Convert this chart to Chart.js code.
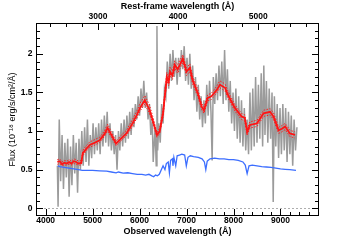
<!DOCTYPE html>
<html>
<head>
<meta charset="utf-8">
<script src="https://cdn.jsdelivr.net/npm/chart.js@4.4.0/dist/chart.umd.min.js"></script>
<style>
  html, body { margin: 0; padding: 0; background: #fff; }
  #wrap { width: 355px; height: 240px; }
</style>
</head>
<body>
<div id="wrap"><canvas id="spec" width="355" height="240"></canvas></div>
<script>
// observed wavelength range and redshift for the rest-frame axis
var xMin = 3795, xMax = 9820
var zFactor = 1.705

var xTicks = [4000, 5000, 6000, 7000, 8000, 9000]
var topTicks = [3000, 4000, 5000]
var yTicks = [0, 0.5, 1, 1.5, 2]

// observed spectrum (grey), pairs of [wavelength, flux]
var graySpectrum = [[4250,0.55],[4265,0.02],[4290,1.15],[4320,0.35],[4350,0.95],[4380,0.25],[4410,0.85],[4440,0.40],[4470,0.90],[4500,0.15],
  [4530,0.80],[4560,0.30],[4590,0.95],[4620,0.45],[4650,0.85],[4680,0.20],[4710,0.90],[4740,0.50],[4770,1.00],[4800,0.55],
  [4830,1.05],[4860,0.60],[4890,1.15],[4920,0.55],[4950,0.95],[4980,0.65],[5010,1.10],[5040,0.70],[5070,1.05],[5100,0.75],
  [5130,1.10],[5160,0.70],[5190,1.15],[5220,0.80],[5250,1.20],[5280,0.85],[5310,1.25],[5340,0.80],[5370,1.10],[5400,0.75],
  [5430,1.00],[5460,0.70],[5490,0.95],[5520,0.50],[5550,1.00],[5580,0.75],[5610,1.10],[5640,0.80],[5670,1.15],[5700,0.85],
  [5730,1.20],[5760,0.90],[5790,1.25],[5820,0.95],[5850,1.30],[5880,1.05],[5910,1.35],[5940,1.15],[5970,1.45],[6000,1.20],
  [6030,1.55],[6060,1.30],[6090,1.65],[6120,1.30],[6150,1.50],[6180,1.15],[6210,1.35],[6240,0.95],[6270,1.15],[6290,0.60],
  [6330,1.05],[6355,0.55],[6370,2.36],[6385,0.75],[6410,1.10],[6440,0.85],[6470,1.35],[6500,1.10],[6530,1.55],[6560,1.45],
  [6590,1.90],[6620,1.55],[6650,2.00],[6680,1.65],[6710,2.05],[6740,1.70],[6770,1.95],[6800,1.60],[6830,1.95],[6860,1.70],
  [6890,2.05],[6920,1.80],[6950,2.10],[6980,1.65],[7010,1.95],[7040,1.60],[7070,2.00],[7100,1.55],[7130,1.85],[7160,1.40],
  [7190,1.70],[7220,1.25],[7250,1.60],[7280,1.15],[7310,1.45],[7340,1.05],[7370,1.40],[7400,1.10],[7430,1.60],[7460,1.20],
  [7490,1.65],[7520,1.25],[7545,0.62],[7570,1.70],[7600,1.35],[7630,1.75],[7660,1.40],[7690,1.85],[7720,1.45],[7750,1.90],
  [7780,1.35],[7810,2.05],[7840,1.40],[7870,1.80],[7900,1.25],[7930,1.65],[7960,1.10],[7990,1.50],[8020,1.00],[8050,1.55],
  [8080,0.90],[8110,1.45],[8140,0.85],[8170,1.40],[8200,0.80],[8230,1.30],[8260,0.75],[8290,1.15],[8320,0.70],[8350,1.50],
  [8380,0.75],[8410,1.55],[8440,0.80],[8470,1.70],[8500,0.85],[8530,1.60],[8560,0.90],[8590,1.75],[8620,0.80],[8645,1.85],
  [8670,0.95],[8700,1.65],[8730,0.85],[8760,1.55],[8790,0.90],[8820,1.50],[8845,0.08],[8870,1.45],[8900,0.80],[8930,1.35],
  [8960,0.65],[8990,1.30],[9020,0.70],[9050,1.35],[9080,0.75],[9110,1.30],[9140,0.60],[9170,1.25],[9200,0.70],[9230,1.20],
  [9260,0.55],[9290,1.15],[9320,0.75],[9350,1.05]]

// best fit model (red) with its upper / lower envelope (dotted)
var redWave = [4250, 4300, 4350, 4400, 4450, 4500, 4550, 4600, 4650, 4700, 4760, 4790, 4850, 4940, 5050, 5150, 5250, 5320, 5400, 5500,
  5600, 5720, 5850, 5950, 6010, 6110, 6210, 6280, 6370, 6430, 6500, 6580, 6620, 6650, 6700, 6750, 6810, 6860, 6920, 7000,
  7070, 7130, 7240, 7320, 7370, 7450, 7530, 7640, 7710, 7820, 7880, 8030, 8170, 8240, 8290, 8350, 8500, 8640, 8780, 8850,
  8960, 9030, 9100, 9200, 9310]
var redFlux = [0.60, 0.61, 0.57, 0.59, 0.58, 0.60, 0.58, 0.61, 0.60, 0.58, 0.59, 0.71, 0.76, 0.82, 0.85, 0.88, 0.96, 1.04, 0.95, 0.84,
  0.90, 0.97, 1.10, 1.22, 1.30, 1.40, 1.28, 1.14, 0.95, 1.00, 1.23, 1.70, 1.64, 1.77, 1.72, 1.86, 1.80, 1.86, 1.94, 1.77,
  1.82, 1.66, 1.49, 1.32, 1.27, 1.43, 1.45, 1.53, 1.60, 1.56, 1.47, 1.30, 1.19, 1.17, 0.99, 1.08, 1.10, 1.23, 1.25, 1.19,
  1.01, 1.03, 1.06, 0.97, 0.95]
var redHigh = [0.63, 0.64, 0.60, 0.62, 0.61, 0.63, 0.61, 0.64, 0.63, 0.61, 0.62, 0.75, 0.80, 0.86, 0.89, 0.92, 1.00, 1.09, 0.99, 0.87,
  0.94, 1.01, 1.15, 1.27, 1.36, 1.46, 1.34, 1.19, 0.98, 1.04, 1.28, 1.76, 1.70, 1.83, 1.78, 1.91, 1.86, 1.92, 1.99, 1.82,
  1.87, 1.71, 1.54, 1.36, 1.31, 1.47, 1.49, 1.58, 1.65, 1.61, 1.52, 1.34, 1.23, 1.21, 1.03, 1.12, 1.14, 1.27, 1.29, 1.24,
  1.05, 1.07, 1.10, 1.01, 0.99]
var redLow = [0.57, 0.58, 0.55, 0.56, 0.56, 0.57, 0.56, 0.58, 0.57, 0.56, 0.56, 0.68, 0.73, 0.79, 0.82, 0.85, 0.93, 1.00, 0.92, 0.81,
  0.87, 0.94, 1.06, 1.18, 1.26, 1.35, 1.23, 1.10, 0.92, 0.97, 1.19, 1.65, 1.59, 1.72, 1.67, 1.81, 1.75, 1.81, 1.89, 1.72,
  1.77, 1.61, 1.45, 1.28, 1.23, 1.39, 1.41, 1.49, 1.56, 1.52, 1.43, 1.26, 1.15, 1.13, 0.95, 1.04, 1.06, 1.19, 1.21, 1.15,
  0.97, 0.99, 1.02, 0.93, 0.91]

// stellar template (blue)
var blueWave = [4260, 4300, 4400, 4500, 4600, 4700, 4780, 4850, 5000, 5150, 5300, 5400, 5500, 5550, 5650, 5750, 5850, 5950, 6050, 6130,
  6200, 6260, 6300, 6340, 6380, 6420, 6470, 6500, 6540, 6570, 6610, 6635, 6660, 6700, 6710, 6730, 6770, 6800, 6850, 6900,
  6960, 6995, 7030, 7080, 7150, 7250, 7330, 7380, 7410, 7440, 7500, 7600, 7700, 7800, 7900, 8000, 8100, 8200, 8250, 8290,
  8330, 8400, 8500, 8600, 8700, 8800, 8900, 9000, 9100, 9200, 9330]
var blueFlux = [0.55, 0.54, 0.53, 0.52, 0.51, 0.50, 0.49, 0.49, 0.49, 0.485, 0.48, 0.47, 0.46, 0.47, 0.455, 0.46, 0.45, 0.44, 0.44, 0.43,
  0.44, 0.42, 0.41, 0.43, 0.42, 0.44, 0.51, 0.55, 0.50, 0.58, 0.60, 0.46, 0.62, 0.64, 0.55, 0.66, 0.55, 0.68, 0.69, 0.70,
  0.69, 0.55, 0.66, 0.68, 0.67, 0.66, 0.64, 0.60, 0.50, 0.61, 0.64, 0.65, 0.64, 0.64, 0.63, 0.63, 0.62, 0.60, 0.56, 0.45,
  0.55, 0.56, 0.55, 0.54, 0.535, 0.53, 0.52, 0.51, 0.505, 0.50, 0.49]

function pts(w, f) {
  return w.map(function (v, i) { return {x: v, y: f[i]} })
}

var FONT = '"Liberation Sans", Arial, Helvetica, sans-serif'

// IDL style frame: box + inward ticks on all four sides, dashed zero line
var frameTicks = {
  id: 'frameTicks',
  beforeDatasetsDraw: function (chart) {
    var ctx = chart.ctx, a = chart.chartArea, y = chart.scales.y
    var y0 = Math.round(y.getPixelForValue(0)) + 0.5
    ctx.save()
    ctx.strokeStyle = '#9a9a9a'
    ctx.lineWidth = 0.8
    ctx.setLineDash([2, 2])
    ctx.beginPath()
    ctx.moveTo(a.left, y0)
    ctx.lineTo(a.right, y0)
    ctx.stroke()
    ctx.restore()
  },
  afterDraw: function (chart) {
    var ctx = chart.ctx, a = chart.chartArea
    var x = chart.scales.x, y = chart.scales.y, xt = chart.scales.xTop
    ctx.save()
    ctx.strokeStyle = '#000'
    ctx.lineWidth = 1
    ctx.strokeRect(a.left + 0.5, a.top + 0.5, a.right - a.left - 1, a.bottom - a.top - 1)
    ctx.beginPath()
    var v, p, len
    for (v = 3800; v <= xMax; v += 200) {
      p = Math.round(x.getPixelForValue(v)) + 0.5
      len = v % 1000 === 0 ? 7 : 4
      ctx.moveTo(p, a.bottom); ctx.lineTo(p, a.bottom - len)
    }
    for (v = 2400; v <= xMax / zFactor; v += 200) {
      p = Math.round(xt.getPixelForValue(v)) + 0.5
      len = v % 1000 === 0 ? 7 : 4
      ctx.moveTo(p, a.top); ctx.lineTo(p, a.top + len)
    }
    for (var i = 0; i <= 23; i++) {
      p = Math.round(y.getPixelForValue(i / 10)) + 0.5
      len = i % 5 === 0 ? 7 : 4
      ctx.moveTo(a.left, p); ctx.lineTo(a.left + len, p)
      ctx.moveTo(a.right, p); ctx.lineTo(a.right - len, p)
    }
    ctx.stroke()
    ctx.restore()
  }
}

var tickFont = {family: FONT, size: 8.5, weight: 'bold', lineHeight: 1.2}
var titleFont = {family: FONT, size: 9, weight: 'bold', lineHeight: 1.2}

new Chart(document.getElementById('spec'), {
  type: 'line',
  data: {
    datasets: [
      {data: pts(redWave, redFlux), borderColor: 'rgb(255,20,20)', borderWidth: 1.8},
      {data: pts(redWave, redHigh), borderColor: 'rgb(255,30,30)', borderWidth: 1, borderDash: [1.5, 1.5]},
      {data: pts(redWave, redLow), borderColor: 'rgb(255,30,30)', borderWidth: 1, borderDash: [1.5, 1.5]},
      {data: pts(blueWave, blueFlux), borderColor: 'rgb(60,110,255)', borderWidth: 1.3},
      {data: graySpectrum.map(function (d) { return {x: d[0], y: d[1]} }), borderColor: 'rgb(155,155,155)', borderWidth: 1.5}
    ]
  },
  options: {
    responsive: false,
    animation: false,
    devicePixelRatio: 1,
    layout: {padding: {left: 0, right: 36, top: 0, bottom: 0}},
    elements: {point: {radius: 0}, line: {tension: 0, fill: false}},
    plugins: {legend: {display: false}, tooltip: {enabled: false}},
    scales: {
      x: {
        type: 'linear', position: 'bottom', min: xMin, max: xMax,
        afterBuildTicks: function (s) { s.ticks = xTicks.map(function (v) { return {value: v} }) },
        afterFit: function (s) { s.height = 24 },
        grid: {display: false, drawTicks: false},
        border: {display: false},
        ticks: {font: tickFont, color: '#000', padding: 0, maxRotation: 0, callback: function (v) { return String(v) }},
        title: {display: true, text: 'Observed wavelength (Å)', font: titleFont, color: '#000', padding: {top: 0, bottom: 2.6}}
      },
      xTop: {
        type: 'linear', position: 'top', min: xMin / zFactor, max: xMax / zFactor,
        afterBuildTicks: function (s) { s.ticks = topTicks.map(function (v) { return {value: v} }) },
        afterFit: function (s) { s.height = 23 },
        grid: {display: false, drawTicks: false},
        border: {display: false},
        ticks: {font: tickFont, color: '#000', padding: 1.5, maxRotation: 0, callback: function (v) { return String(v) }},
        title: {display: true, text: 'Rest-frame wavelength (Å)', font: titleFont, color: '#000', padding: {top: 1, bottom: 0}}
      },
      y: {
        type: 'linear', position: 'left', min: -0.1, max: 2.4,
        afterBuildTicks: function (s) { s.ticks = yTicks.map(function (v) { return {value: v} }) },
        afterFit: function (s) { s.width = 36 },
        grid: {display: false, drawTicks: false},
        border: {display: false},
        ticks: {font: tickFont, color: '#000', padding: 3.5, callback: function (v) { return String(v) }},
        title: {display: true, text: 'Flux (10⁻¹⁸ erg/s/cm²/Å)', font: {family: FONT, size: 9, weight: 'normal', lineHeight: 1.2}, color: '#000', padding: {top: 7, bottom: 0}}
      }
    }
  },
  plugins: [frameTicks]
})
</script>
</body>
</html>
